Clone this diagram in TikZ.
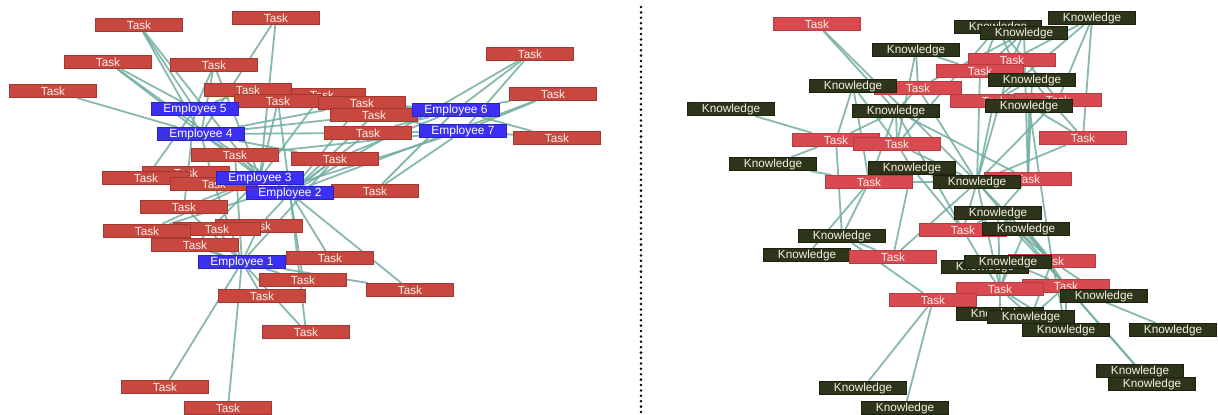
\documentclass[tikz,border=0pt]{standalone}
\usepackage{fontspec}
\newfontfamily\labelfont{Liberation Sans}
\pgfdeclarelayer{background}
\pgfsetlayers{background,main}
\definecolor{taskL}{HTML}{C8473F}
\definecolor{taskLline}{HTML}{A23832}
\definecolor{taskR}{HTML}{D84A50}
\definecolor{taskRline}{HTML}{B53D42}
\definecolor{know}{HTML}{2C3419}
\definecolor{knowline}{HTML}{1D220F}
\definecolor{emp}{HTML}{3B2FF2}
\definecolor{empline}{HTML}{2B22C2}
\definecolor{linkcol}{HTML}{72ADA1}
\definecolor{labeltext}{HTML}{F6F0E8}
\tikzset{
  box/.style={rectangle, minimum width=87bp, minimum height=13.5bp, inner sep=0pt,
    line width=0.6bp, text=labeltext, font=\labelfont\fontsize{11.8}{12}\selectfont},
  tasknode/.style={box, fill=taskL, draw=taskLline},
  rtasknode/.style={box, fill=taskR, draw=taskRline},
  knownode/.style={box, fill=know, draw=knowline},
  empnode/.style={box, fill=emp, draw=empline, text=white, font=\labelfont\fontsize{12}{12}\selectfont},
  link/.style={draw=linkcol, line width=1.8bp, opacity=0.85},
}
\begin{document}
\begin{tikzpicture}[x=1bp,y=-1bp]
\useasboundingbox (0,0) rectangle (1218,414);
\begin{pgfonlayer}{background}
\fill[white] (0,0) rectangle (1218,414);
\end{pgfonlayer}

% ---------- left network: employees and tasks ----------
\node[tasknode] (a8)  at (322,95)  {Task};
\node[tasknode] (a17) at (186,173) {Task};
\node[tasknode] (a22) at (259,226) {Task};
\node[tasknode] (a1)  at (139,25)  {Task};
\node[tasknode] (a2)  at (276,18)  {Task};
\node[tasknode] (a3)  at (108,62)  {Task};
\node[tasknode] (a4)  at (214,65)  {Task};
\node[tasknode] (a5)  at (53,91)   {Task};
\node[tasknode] (a6)  at (530,54)  {Task};
\node[tasknode] (a7b) at (248,90)  {Task};
\node[tasknode] (a7)  at (278,101) {Task};
\node[tasknode] (a10) at (362,103) {Task};
\node[tasknode] (a11) at (374,115) {Task};
\node[tasknode] (a12) at (553,94)  {Task};
\node[tasknode] (a13) at (368,133) {Task};
\node[tasknode] (a14) at (557,138) {Task};
\node[tasknode] (a15) at (235,155) {Task};
\node[tasknode] (a16) at (335,159) {Task};
\node[tasknode] (a18) at (146,178) {Task};
\node[tasknode] (a19) at (214,184) {Task};
\node[tasknode] (a20) at (375,191) {Task};
\node[tasknode] (a21) at (184,207) {Task};
\node[tasknode] (a23) at (217,229) {Task};
\node[tasknode] (a24) at (147,231) {Task};
\node[tasknode] (a25) at (195,245) {Task};
\node[tasknode] (a26) at (330,258) {Task};
\node[tasknode] (a27) at (303,280) {Task};
\node[tasknode] (a28) at (410,290) {Task};
\node[tasknode] (a29) at (262,296) {Task};
\node[tasknode] (a30) at (306,332) {Task};
\node[tasknode] (a31) at (165,387) {Task};
\node[tasknode] (a32) at (228,408) {Task};

\node[empnode] (e5) at (195,109) {Employee 5};
\node[empnode] (e4) at (201,134) {Employee 4};
\node[empnode] (e3) at (260,178) {Employee 3};
\node[empnode] (e2) at (290,193) {Employee 2};
\node[empnode] (e6) at (456,110) {Employee 6};
\node[empnode] (e7) at (463,131) {Employee 7};
\node[empnode] (e1) at (242,262) {Employee 1};

\begin{pgfonlayer}{background}
\foreach \s/\t in {e1/a31,e1/a32,e1/a30,e1/a29,e1/a27,e1/a26,e1/a25,e1/a24,e1/a22,e1/a23,
    e1/a21,e1/a19,e1/a15,e1/a16,e1/a28,
    e2/a3,e2/a6,e2/a12,e2/a28,e2/a20,e2/a16,e2/a13,e2/a10,e2/a11,e2/a7,e2/a27,e2/a26,e2/a30,e2/a22,
    e3/a1,e3/a2,e3/a3,e3/a4,e3/a7,e3/a15,e3/a17,e3/a18,e3/a19,e3/a21,e3/a25,e3/a24,e3/a8,
    e4/a1,e4/a4,e4/a5,e4/a10,e4/a11,e4/a15,e4/a16,e4/a13,e4/a19,e4/a2,
    e5/a3,e5/a4,e5/a1,e5/a7b,e5/a10,e5/a18,e5/a21,e5/a8,
    e6/a6,e6/a12,e6/a14,e6/a10,e6/a11,e6/a16,e6/a7,e6/a13,e6/a20,
    e7/a6,e7/a12,e7/a14,e7/a13,e7/a20,e7/a15,e7/a11,e7/a24}
  \draw[link] (\s) -- (\t);
\end{pgfonlayer}

% ---------- dotted divider ----------
\coordinate (sepTop) at (641,7);
\coordinate (sepBot) at (641,414);
\draw[line width=2.8bp, line cap=round, dash pattern=on 0bp off 5.4bp] (sepTop) -- (sepBot);

% ---------- right network: tasks and knowledge ----------
\node[knownode]  (k2)  at (998,27)   {Knowledge};
\node[knownode]  (k4)  at (1024,33)  {Knowledge};
\node[knownode]  (k3)  at (1092,18)  {Knowledge};
\node[knownode]  (k1)  at (916,50)   {Knowledge};
\node[rtasknode] (r1)  at (817,24)   {Task};
\node[rtasknode] (r3)  at (1012,60)  {Task};
\node[rtasknode] (r4)  at (980,71)   {Task};
\node[knownode]  (k6)  at (1032,80)  {Knowledge};
\node[rtasknode] (r2)  at (918,88)   {Task};
\node[knownode]  (k5)  at (853,86)   {Knowledge};
\node[rtasknode] (r5)  at (994,101)  {Task};
\node[rtasknode] (r6)  at (1058,100) {Task};
\node[knownode]  (k8)  at (1029,106) {Knowledge};
\node[knownode]  (k7)  at (896,111)  {Knowledge};
\node[knownode]  (k9)  at (731,109)  {Knowledge};
\node[rtasknode] (r7)  at (836,140)  {Task};
\node[rtasknode] (r8)  at (897,144)  {Task};
\node[rtasknode] (r11) at (1083,138) {Task};
\node[knownode]  (k10) at (773,164)  {Knowledge};
\node[knownode]  (k11) at (912,168)  {Knowledge};
\node[rtasknode] (r9)  at (869,182)  {Task};
\node[rtasknode] (r10) at (1028,179) {Task};
\node[knownode]  (k12) at (977,182)  {Knowledge};
\node[knownode]  (k13) at (998,213)  {Knowledge};
\node[rtasknode] (r12) at (963,230)  {Task};
\node[knownode]  (k14) at (1026,229) {Knowledge};
\node[knownode]  (k15) at (842,236)  {Knowledge};
\node[knownode]  (k16) at (807,255)  {Knowledge};
\node[rtasknode] (r13) at (893,257)  {Task};
\node[knownode]  (k17) at (985,267)  {Knowledge};
\node[rtasknode] (r14) at (1052,261) {Task};
\node[knownode]  (k18) at (1008,262) {Knowledge};
\node[rtasknode] (r16) at (1066,286) {Task};
\node[rtasknode] (r15) at (1000,289) {Task};
\node[knownode]  (k19) at (1104,296) {Knowledge};
\node[rtasknode] (r17) at (933,300)  {Task};
\node[knownode]  (k20) at (1000,314) {Knowledge};
\node[knownode]  (k21) at (1031,317) {Knowledge};
\node[knownode]  (k22) at (1066,330) {Knowledge};
\node[knownode]  (k23) at (1173,330) {Knowledge};
\node[knownode]  (k24) at (1140,371) {Knowledge};
\node[knownode]  (k25) at (1152,384) {Knowledge};
\node[knownode]  (k26) at (863,388)  {Knowledge};
\node[knownode]  (k27) at (905,408)  {Knowledge};

\begin{pgfonlayer}{background}
\foreach \s/\t in {k12/r1,k12/r2,k12/r3,k12/r4,k12/r5,k12/r6,k12/r8,k12/r10,k12/r11,k12/r12,
    k12/r13,k12/r14,k12/r15,k12/r16,k12/r9,
    k1/r2,k1/r8,k1/r4,k2/r3,k2/r4,k2/r8,k2/r6,k3/r3,k3/r6,k3/r11,k3/r5,
    k4/r3,k4/r4,k4/r10,k4/r2,k5/r7,k5/r8,k5/r9,k5/r2,
    k6/r3,k6/r11,k6/r10,k6/r5,k7/r1,k7/r7,k7/r8,k7/r9,k7/r2,k7/r10,k7/r12,
    k8/r6,k8/r11,k8/r14,k8/r10,k9/r7,k10/r7,k10/r9,
    k11/r8,k11/r9,k11/r12,k11/r13,k13/r12,k13/r14,k13/r15,k13/r10,k13/r16,
    k14/r14,k14/r15,k14/r16,k14/r12,k15/r9,k15/r7,k15/r13,k16/r13,k16/r9,
    k17/r15,k17/r12,k18/r14,k18/r16,k18/r15,k19/r16,k19/r14,
    k20/r15,k20/r17,k21/r15,k21/r16,k21/r14,k22/r16,k22/r15,k22/r14,
    k23/r16,k24/r16,k25/r16,k26/r17,k27/r17,k15/r17}
  \draw[link] (\s) -- (\t);
\end{pgfonlayer}
\end{tikzpicture}
\end{document}
